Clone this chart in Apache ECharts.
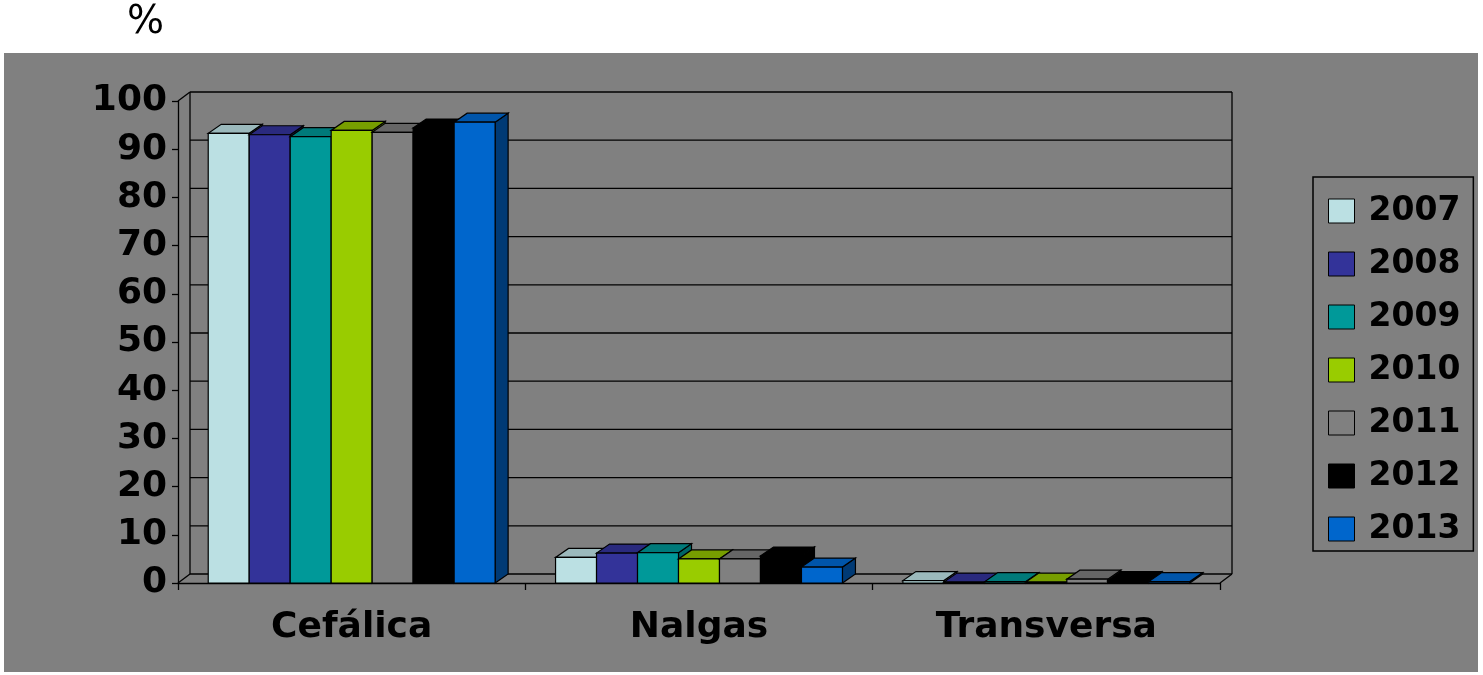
<!DOCTYPE html>
<html>
<head>
<meta charset="utf-8">
<script src="https://cdn.jsdelivr.net/npm/echarts@6/dist/echarts.min.js"></script>
<style>
  html, body { margin: 0; padding: 0; background: #ffffff; }
  #panel { position: absolute; left: 4px; top: 53px; width: 1474px; height: 619px; background: #808080; }
  #chart { position: absolute; left: 0; top: 0; width: 1483px; height: 675px; }
</style>
</head>
<body>
<div id="panel"></div>
<div id="chart"></div>
<script>
// Presentación fetal por año (%)
const categories = ['Cefálica', 'Nalgas', 'Transversa'];
const years = ['2007', '2008', '2009', '2010', '2011', '2012', '2013'];
const v2007 = [93.3, 5.3, 0.5];
const v2008 = [93.0, 6.2, 0.2];
const v2009 = [92.6, 6.3, 0.3];
const v2010 = [93.9, 5.0, 0.2];
const v2011 = [93.5, 5.0, 0.8];
const v2012 = [94.4, 5.6, 0.5];
const v2013 = [95.6, 3.3, 0.3];
const yTicks = [0, 10, 20, 30, 40, 50, 60, 70, 80, 90, 100];

const seriesValues = [v2007, v2008, v2009, v2010, v2011, v2012, v2013];
// front, top, side face colours
const faceColors = [
  ['#BBE0E3', '#9BB9BC', '#8FAFB2'],
  ['#333399', '#2A2A7E', '#23236B'],
  ['#009999', '#007A7A', '#006666'],
  ['#99CC00', '#779E00', '#668800'],
  ['#808080', '#666666', '#5A5A5A'],
  ['#000000', '#000000', '#000000'],
  ['#0066CC', '#0055AA', '#003A75']
];

const FONT = '"DejaVu Sans", "Liberation Sans", Arial, sans-serif';
const BAR_DX = 13, BAR_DY = 9;   // bar depth projection
const WALL_DX = 12, WALL_DY = 9; // floor / wall depth projection
const BAR_FRAC = 0.118;          // each bar as a fraction of the category band
const EDGE = { stroke: '#000', lineWidth: 1.2 };

function barRenderer(idx) {
  const cols = faceColors[idx];
  return function (params, api) {
    const cat = api.value(0), val = api.value(1);
    const base = api.coord([cat, 0]);
    const top = api.coord([cat, val]);
    const band = api.size([1, 0])[0];
    const w = band * BAR_FRAC;
    const x0 = base[0] - 3.5 * w + idx * w, x1 = x0 + w;
    const yB = base[1], yT = top[1];
    return {
      type: 'group',
      children: [
        { type: 'polygon', shape: { points: [[x1, yT], [x1 + BAR_DX, yT - BAR_DY], [x1 + BAR_DX, yB - BAR_DY], [x1, yB]] },
          style: Object.assign({ fill: cols[2] }, EDGE) },
        { type: 'polygon', shape: { points: [[x0, yT], [x1, yT], [x1 + BAR_DX, yT - BAR_DY], [x0 + BAR_DX, yT - BAR_DY]] },
          style: Object.assign({ fill: cols[1] }, EDGE) },
        { type: 'rect', shape: { x: x0, y: yT, width: w, height: yB - yT },
          style: Object.assign({ fill: cols[0] }, EDGE) }
      ]
    };
  };
}

// back wall, side edges and floor edges of the 3D frame
function frameRenderer(params, api) {
  const band = api.size([1, 0])[0];
  const left = api.coord([0, 0])[0] - band / 2;
  const right = api.coord([categories.length - 1, 0])[0] + band / 2;
  const y0 = api.coord([0, yTicks[0]])[1];
  const yMax = api.coord([0, yTicks[yTicks.length - 1]])[1];
  const lineStyle = { stroke: '#000', lineWidth: 1.3 };
  const seg = (a, b) => ({ type: 'line', shape: { x1: a[0], y1: a[1], x2: b[0], y2: b[1] }, style: lineStyle });
  const children = yTicks.map(v => {
    const y = api.coord([0, v])[1] - WALL_DY;
    return seg([left + WALL_DX, y], [right + WALL_DX, y]);
  });
  children.push(seg([left + WALL_DX, y0 - WALL_DY], [left + WALL_DX, yMax - WALL_DY]));
  children.push(seg([right + WALL_DX, y0 - WALL_DY], [right + WALL_DX, yMax - WALL_DY]));
  children.push(seg([left, yMax], [left + WALL_DX, yMax - WALL_DY]));
  children.push(seg([left, y0], [left + WALL_DX, y0 - WALL_DY]));
  children.push(seg([right, y0], [right + WALL_DX, y0 - WALL_DY]));
  return { type: 'group', children: children };
}

const series = [{
  type: 'custom',
  name: 'frame',
  silent: true,
  z: 1,
  data: [[0, 0]],
  renderItem: frameRenderer
}];
years.forEach((y, i) => {
  series.push({
    type: 'custom',
    name: y,
    z: 2,
    itemStyle: { color: faceColors[i][0] },
    data: seriesValues[i].map((v, c) => [c, v]),
    encode: { x: 0, y: 1 },
    renderItem: barRenderer(i)
  });
});

const chart = echarts.init(document.getElementById('chart'), null, { renderer: 'canvas' });
chart.setOption({
  backgroundColor: 'transparent',
  animation: false,
  title: {
    text: '%',
    left: 127,
    top: 3,
    padding: 0,
    textStyle: { fontFamily: FONT, fontSize: 39, fontWeight: 'normal', color: '#000' }
  },
  grid: { left: 178, right: 263, top: 101, bottom: 92 },
  legend: {
    orient: 'vertical',
    left: 1313,
    top: 177,
    padding: [15, 13, 3, 15],
    itemWidth: 26,
    itemHeight: 24,
    itemGap: 15,
    borderColor: '#000',
    borderWidth: 1.5,
    selectedMode: false,
    textStyle: { fontFamily: FONT, fontSize: 33, fontWeight: 'bold', color: '#000', lineHeight: 38, padding: [0, 0, 0, 9] },
    data: years.map((y, i) => ({
      name: y,
      icon: 'rect',
      itemStyle: { color: faceColors[i][0], borderColor: '#000', borderWidth: 1 }
    }))
  },
  xAxis: {
    type: 'category',
    data: categories,
    axisLine: { lineStyle: { color: '#000', width: 1.3 } },
    axisTick: { show: true, length: 7, lineStyle: { color: '#000', width: 1.3 } },
    axisLabel: { fontFamily: FONT, fontSize: 36, fontWeight: 'bold', color: '#000', margin: 27 },
    splitLine: { show: false }
  },
  yAxis: {
    type: 'value',
    min: 0,
    max: 100,
    interval: 10,
    axisLine: { show: true, lineStyle: { color: '#000', width: 1.3 } },
    axisTick: { show: true, length: 6, lineStyle: { color: '#000', width: 1.3 } },
    axisLabel: { fontFamily: FONT, fontSize: 36, fontWeight: 'bold', color: '#000', margin: 11, padding: [5, 0, 0, 0] },
    splitLine: { show: false }
  },
  series: series
});
</script>
</body>
</html>
